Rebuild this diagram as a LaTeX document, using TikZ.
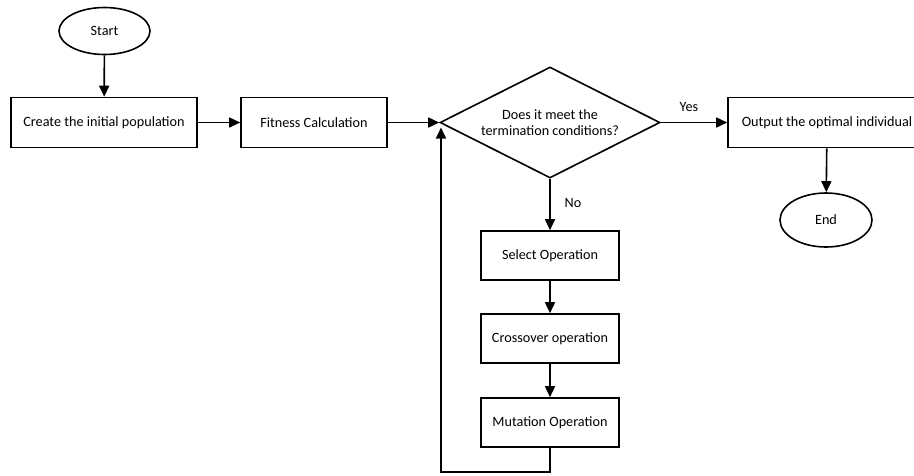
\documentclass[tikz,border=0pt]{standalone}
\usepackage{fontspec}
\setmainfont{Carlito}
\usepackage{tikz}
\usetikzlibrary{shapes.geometric, arrows.meta, positioning}

\begin{document}
\begin{tikzpicture}[x=1pt, y=1pt, font=\fontsize{14.2}{15.5}\selectfont,
  line width=1.6pt, >={Triangle[length=11pt, width=10pt]},
  procbox/.style={draw, rectangle, minimum height=50pt, inner sep=2pt},
  termnode/.style={draw, ellipse, inner sep=0pt},
  decide/.style={draw, diamond, aspect=2, inner sep=0pt, minimum width=220pt, minimum height=111pt, align=center}]
\useasboundingbox (0,0) rectangle (914,-475);

\node[termnode, minimum width=91pt, minimum height=47pt] (start) at (104.5,-31) {Start};
\node[procbox, minimum width=186pt] (init) at (104,-122.5) {Create the initial population};
\node[procbox, minimum width=146pt] (fit) at (314,-122.5) {Fitness Calculation};
\node[decide] (cond) at (550,-122.5) {Does it meet the\\termination conditions?};
\node[procbox, minimum width=198pt] (out) at (827,-122.5) {Output the optimal individual};
\node[termnode, minimum width=92pt, minimum height=54pt] (stop) at (826,-220) {End};
\node[procbox, minimum width=138pt, minimum height=49pt] (sel) at (550,-255.5) {Select Operation};
\node[procbox, minimum width=138pt, minimum height=49pt] (cross) at (550,-338.5) {Crossover operation};
\node[procbox, minimum width=138pt, minimum height=49pt] (mut) at (550,-422.5) {Mutation Operation};

\node (yes) at (689,-107) {Yes};
\node (no) at (573,-203) {No};
\coordinate (turn) at (441,-472);

\draw[->] (start) -- (init);
\draw[->] (init) -- (fit);
\draw[->] (fit) -- (cond.west);
\draw[->] (cond.east) -- (out);
\draw[->] (out) -- (stop);
\draw[->] (cond.south) -- (sel);
\draw[->] (sel) -- (cross);
\draw[->] (cross) -- (mut);
\draw[->] (mut.south) |- (turn) -- ([yshift=-5pt]turn |- cond.west);
\end{tikzpicture}
\end{document}
